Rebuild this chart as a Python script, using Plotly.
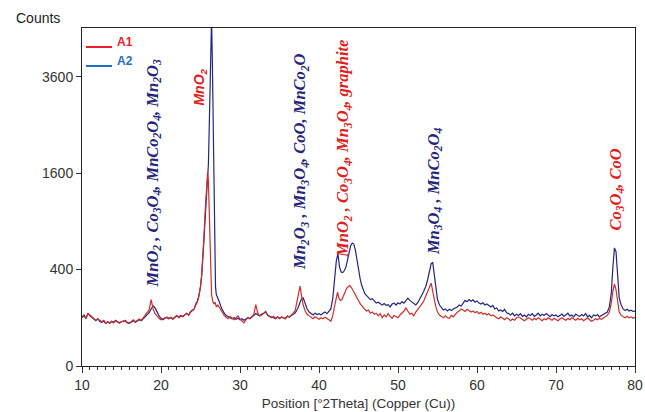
import numpy as np
import plotly.graph_objects as go

# ---------------- data (counts vs 2theta) ----------------
a1_theta = [10.0,10.25,10.5,10.75,11.0,11.25,11.5,11.75,12.0,
 12.25,12.5,12.75,13.0,13.25,13.5,13.75,14.0,14.25,14.5,14.75,15.0,15.25,15.5,15.75,16.0,16.25,16.5,16.75,17.0,
 17.25,17.5,17.75,18.0,18.25,18.5,18.75,19.0,19.25,19.5,19.75,20.0,
 20.25,20.5,20.75,21.0,21.25,21.5,21.75,22.0,22.25,22.5,22.75,23.0,23.25,23.5,23.75,24.0,
 24.2,24.4,24.6,24.8,25.0,25.15,25.3,25.45,25.6,25.7,25.8,25.9,26.0,26.1,26.2,26.3,26.4,26.55,26.7,26.85,27.0,27.2,27.4,27.6,
 27.75,28.0,28.25,28.5,28.75,29.0,29.25,29.5,29.75,30.0,30.25,30.5,30.75,31.0,31.25,31.5,31.75,32.0,
 32.25,32.5,32.75,33.0,33.25,33.5,33.75,34.0,34.25,34.5,34.75,35.0,35.25,35.5,35.75,36.0,36.25,36.5,36.75,37.0,
 37.2,37.4,37.6,37.8,38.0,38.25,38.5,38.75,39.0,39.25,39.5,39.75,40.0,40.25,40.5,40.75,41.0,41.25,41.5,41.75,
 42.0,42.2,42.35,42.5,42.7,42.9,43.1,43.3,43.5,43.7,43.9,44.1,44.3,44.5,44.75,45.0,45.25,45.5,45.75,46.0,
 46.25,46.5,46.75,47.0,47.25,47.5,47.75,48.0,48.25,48.5,48.75,49.0,49.25,49.5,49.75,50.0,50.25,50.5,50.75,51.0,
 51.25,51.5,51.75,52.0,52.25,52.5,52.75,53.0,53.25,53.5,53.75,54.0,54.2,54.4,54.6,54.8,55.0,55.25,55.5,55.75,
 56.0,56.25,56.5,56.75,57.0,57.25,57.5,57.75,58.0,58.25,58.5,58.75,59.0,59.25,59.5,59.75,60.0,60.25,60.5,60.75,
 61.0,61.25,61.5,61.75,62.0,62.25,62.5,62.75,63.0,63.25,63.5,63.75,64.0,64.25,64.5,64.75,65.0,65.25,65.5,65.75,
 66.0,66.25,66.5,66.75,67.0,67.25,67.5,67.75,68.0,68.25,68.5,68.75,69.0,69.25,69.5,69.75,70.0,70.25,70.5,70.75,
 71.0,71.25,71.5,71.75,72.0,72.25,72.5,72.75,73.0,73.25,73.5,73.75,74.0,74.25,74.5,74.75,75.0,75.25,75.5,75.75,
 76.0,76.25,76.5,76.75,77.0,77.2,77.4,77.6,77.8,78.0,78.25,78.5,78.75,79.0,79.25,79.5,79.75,80.0]
a1_counts = [100,108,96,118,112,104,98,90,95,
 88,84,90,80,83,78,85,80,88,82,79,86,84,90,82,80,86,92,84,88,
 95,90,100,112,118,135,190,140,118,105,98,92,
 95,100,104,98,102,96,105,110,100,108,104,112,118,110,125,132,
 140,160,175,210,272,360,500,750,1050,1300,1550,1620,1480,1100,650,320,220,180,165,175,150,160,145,130,
 120,110,102,96,105,98,92,100,108,95,88,80,92,100,98,104,115,162,
 120,108,112,118,125,110,104,100,106,98,102,96,104,100,95,108,102,112,120,135,
 175,230,275,210,160,130,115,108,100,96,104,98,94,100,96,102,98,92,86,110,
 160,210,235,200,185,190,215,240,260,270,278,265,245,220,200,185,165,150,140,130,
 135,120,125,115,120,108,118,100,112,104,118,106,98,110,104,100,112,120,130,145,
 128,115,120,108,125,140,150,165,180,205,230,270,295,250,190,150,125,112,104,100,
 108,100,98,110,104,116,124,130,140,135,128,138,132,125,130,122,128,118,124,115,
 120,112,118,108,112,104,100,96,104,98,92,100,96,88,95,90,100,104,98,92,
 88,94,100,96,90,98,92,100,95,88,96,92,100,94,90,98,92,88,95,100,
 94,90,97,92,100,95,90,98,92,96,88,94,100,92,86,90,96,92,98,94,
 100,104,110,125,170,240,290,250,170,125,110,104,100,106,100,104,98,102]

a2_theta = [10.0,10.25,10.5,10.75,11.0,11.25,11.5,11.75,12.0,
 12.25,12.5,12.75,13.0,13.25,13.5,13.75,14.0,14.25,14.5,14.75,15.0,15.25,15.5,15.75,16.0,16.25,16.5,16.75,17.0,
 17.25,17.5,17.75,18.0,18.25,18.5,18.75,19.0,19.25,19.5,19.75,20.0,
 20.25,20.5,20.75,21.0,21.25,21.5,21.75,22.0,22.25,22.5,22.75,23.0,23.25,23.5,23.75,24.0,
 24.2,24.4,24.6,24.8,25.0,25.15,25.3,25.45,25.6,25.7,25.8,25.9,26.0,26.1,26.2,26.3,26.4,26.5,26.6,26.7,26.8,26.9,27.0,27.2,27.4,27.6,
 27.75,28.0,28.25,28.5,28.75,29.0,29.25,29.5,29.75,30.0,30.25,30.5,30.75,31.0,31.25,31.5,31.75,32.0,
 32.25,32.5,32.75,33.0,33.25,33.5,33.75,34.0,34.25,34.5,34.75,35.0,35.25,35.5,35.75,36.0,36.25,36.5,36.75,37.0,
 37.2,37.4,37.6,37.8,38.0,38.25,38.5,38.75,39.0,39.25,39.5,39.75,40.0,40.25,40.5,40.75,41.0,41.25,41.5,41.75,
 42.0,42.2,42.4,42.6,42.8,43.0,43.2,43.4,43.6,43.8,44.0,44.2,44.4,44.6,44.8,45.0,45.2,45.4,45.6,45.8,
 46.0,46.25,46.5,46.75,47.0,47.25,47.5,47.75,48.0,48.25,48.5,48.75,49.0,49.25,49.5,49.75,50.0,50.25,50.5,50.75,
 51.0,51.25,51.5,51.75,52.0,52.25,52.5,52.75,53.0,53.25,53.5,53.75,54.0,54.2,54.4,54.6,54.8,55.0,55.25,55.5,55.75,
 56.0,56.25,56.5,56.75,57.0,57.25,57.5,57.75,58.0,58.25,58.5,58.75,59.0,59.25,59.5,59.75,60.0,60.25,60.5,60.75,
 61.0,61.25,61.5,61.75,62.0,62.25,62.5,62.75,63.0,63.25,63.5,63.75,64.0,64.25,64.5,64.75,65.0,65.25,65.5,65.75,
 66.0,66.25,66.5,66.75,67.0,67.25,67.5,67.75,68.0,68.25,68.5,68.75,69.0,69.25,69.5,69.75,70.0,70.25,70.5,70.75,
 71.0,71.25,71.5,71.75,72.0,72.25,72.5,72.75,73.0,73.25,73.5,73.75,74.0,74.25,74.5,74.75,75.0,75.25,75.5,75.75,
 76.0,76.25,76.5,76.75,77.0,77.2,77.4,77.6,77.8,78.0,78.25,78.5,78.75,79.0,79.25,79.5,79.75,80.0]
a2_counts = [102,112,98,120,108,100,94,88,96,
 85,82,88,78,84,80,86,82,90,84,80,84,88,86,80,78,84,88,82,86,
 92,88,96,104,110,122,140,155,145,125,108,98,
 92,98,100,96,100,94,102,108,104,110,106,114,120,112,128,135,
 140,165,180,215,270,350,480,700,950,1150,1350,1500,1750,2400,3400,4600,5200,4000,2300,1100,500,270,220,190,175,150,
 135,120,110,104,100,96,100,94,98,92,96,90,95,100,96,104,110,118,
 112,108,116,120,128,112,106,104,100,96,104,98,102,100,98,106,104,110,115,122,
 135,150,175,195,200,165,140,125,118,112,120,114,118,112,120,126,118,130,140,200,
 330,480,540,420,380,375,390,420,480,560,620,650,640,580,480,400,330,280,250,225,
 215,205,190,195,180,170,175,165,160,168,158,162,150,165,170,160,172,165,178,170,
 182,198,185,175,168,160,172,190,215,240,270,320,400,450,460,360,250,190,160,145,135,
 140,130,138,132,140,145,150,160,155,170,185,178,190,180,188,175,182,170,165,172,
 160,165,155,150,158,140,145,130,135,128,138,122,118,112,120,108,115,110,118,106,
 112,104,115,110,118,106,112,120,108,115,110,118,112,105,114,108,112,104,110,116,
 106,112,120,108,112,104,116,110,106,114,108,118,104,110,100,112,108,114,104,110,
 115,118,125,150,230,420,600,560,330,200,160,140,132,138,130,134,128,130]

y_tick_values = [0, 400, 1600, 3600]
y_tick_labels = ["0", "400", "1600", "3600"]
x_tick_values = [10, 20, 30, 40, 50, 60, 70, 80]

RED = "#c8302c"
NAVY = "#25257e"
L, R, T, B = 82, 10, 28, 46
PW, PH = 645 - L - R, 412 - T - B

def px(xp):
    return (xp - L) / PW

def py(yp):
    return (412 - B - yp) / PH

fig = go.Figure()
fig.add_trace(go.Scatter(x=a2_theta, y=np.sqrt(np.array(a2_counts, float)), mode="lines",
                         line=dict(color=NAVY, width=1.2), name="A2", showlegend=False))
fig.add_trace(go.Scatter(x=a1_theta, y=np.sqrt(np.array(a1_counts, float)), mode="lines",
                         line=dict(color=RED, width=1.2), name="A1", showlegend=False))

# phase labels (rotated)
labels = [
    (19.0, 15.9, "MnO<sub>2</sub> , Co<sub>3</sub>O<sub>4</sub>, MnCo<sub>2</sub>O<sub>4</sub>, Mn<sub>2</sub>O<sub>3</sub>", NAVY, "Liberation Serif", 16.5),
    (25.0, 53.6, "MnO<sub>2</sub>", "#e02020", "Liberation Sans", 14),
    (37.6, 19.4, "Mn<sub>2</sub>O<sub>3</sub> , Mn<sub>3</sub>O<sub>4</sub>, CoO, MnCo<sub>2</sub>O", NAVY, "Liberation Serif", 16.5),
    (43.1, 22.1, "MnO<sub>2</sub> , Co<sub>3</sub>O<sub>4</sub>, Mn<sub>3</sub>O<sub>4</sub>, graphite", "#e02020", "Liberation Serif", 16.5),
    (54.5, 22.5, "Mn<sub>3</sub>O<sub>4</sub> , MnCo<sub>2</sub>O<sub>4</sub>", NAVY, "Liberation Serif", 16.5),
    (77.6, 27.7, "Co<sub>3</sub>O<sub>4</sub>, CoO", "#e02020", "Liberation Serif", 16.5),
]
for x, y, t, c, f, s in labels:
    fig.add_annotation(x=x, y=y, xref="x", yref="y", text="<b><i>" + t + "</i></b>",
                       textangle=-90, showarrow=False, xanchor="center", yanchor="bottom",
                       font=dict(family=f, size=s, color=c))

# legend
for yl, col in [(47, "#e8202a"), (66, "#1f6fc4")]:
    fig.add_shape(type="line", xref="paper", yref="paper", x0=px(86), x1=px(112),
                  y0=py(yl), y1=py(yl), line=dict(color=col, width=2))
fig.add_annotation(x=px(115), y=py(42), xref="paper", yref="paper", text="<b>A1</b>",
                   showarrow=False, xanchor="left", yanchor="middle",
                   font=dict(family="Liberation Sans", size=12, color="#e8202a"))
fig.add_annotation(x=px(115), y=py(61), xref="paper", yref="paper", text="<b>A2</b>",
                   showarrow=False, xanchor="left", yanchor="middle",
                   font=dict(family="Liberation Sans", size=12, color="#1f6fc4"))

# "Counts" title
fig.add_annotation(x=px(14), y=py(18), xref="paper", yref="paper", text="Counts", showarrow=False,
                   xanchor="left", yanchor="middle", font=dict(family="Liberation Sans", size=14, color="#222"))

fig.update_layout(
    width=645, height=412,
    margin=dict(l=L, r=R, t=T, b=B, autoexpand=False),
    paper_bgcolor="white", plot_bgcolor="white",
    showlegend=False,
    font=dict(family="Liberation Sans", size=13, color="#333"),
    xaxis=dict(range=[10, 80], tickvals=x_tick_values, ticks="outside", ticklen=6, tickcolor="#333",
               showline=True, linecolor="#222", linewidth=1, mirror=True, showgrid=False, zeroline=False,
               automargin=False,
               minor=dict(dtick=1, ticks="outside", ticklen=3, tickcolor="#333", showgrid=False),
               title=dict(text="Position [°2Theta] (Copper (Cu))", standoff=6,
                          font=dict(family="Liberation Sans", size=13.5, color="#333")),
               tickfont=dict(size=14, color="#333")),
    yaxis=dict(range=[0, 70.1], tickvals=[float(np.sqrt(v)) for v in y_tick_values],
               ticktext=y_tick_labels, ticks="outside", ticklen=5, tickcolor="#333",
               showline=True, linecolor="#222", linewidth=1, mirror=True, showgrid=False, zeroline=False,
               automargin=False,
               tickfont=dict(size=14, color="#333")),
)

fig.write_html("out.html", config={"displayModeBar": False},
               post_script="document.body.style.margin='0';document.body.style.padding='0';")
